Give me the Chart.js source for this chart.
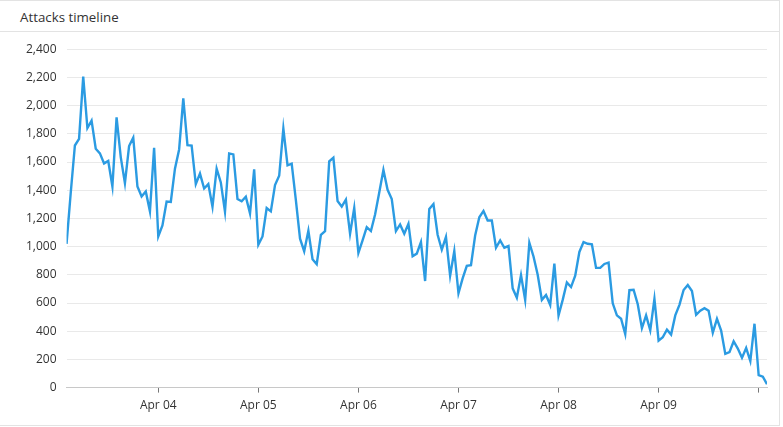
<!DOCTYPE html>
<html>
<head>
<meta charset="utf-8">
<script src="https://cdn.jsdelivr.net/npm/chart.js@4.4.0/dist/chart.umd.min.js"></script>
<style>
  html, body { margin: 0; padding: 0; background: #fff; }
  body { width: 783px; height: 427px; overflow: hidden; font-family: "Open Sans", sans-serif; }
  .panel { position: absolute; left: 0; top: 0; width: 779px; height: 424px;
           border: 1px solid #e3e3e3; border-left: none; }
  .panel-head { height: 30px; line-height: 32px; padding-left: 20px; font-size: 13.3px;
                color: #333; border-bottom: 1px solid #e3e3e3; }
  .panel-body { position: relative; width: 779px; height: 393px; }
</style>
</head>
<body>
<div class="panel">
  <div class="panel-head">Attacks timeline</div>
  <div class="panel-body"><canvas id="chart" width="779" height="393"></canvas></div>
</div>
<script>
// hourly counts, first sample at Apr 03 02:00 (hour 2 counted from Apr 03 00:00)
const startHour = 2;
const attacks = [
  1020, 1380, 1717, 1764, 2205, 1841, 1893, 1694, 1661, 1590, 1607, 1426, 1917, 1635, 1450, 1713,
  1773, 1426, 1356, 1391, 1250, 1701, 1072, 1150, 1319, 1317, 1553, 1689, 2051, 1720, 1717, 1443,
  1518, 1412, 1443, 1283, 1553, 1455, 1248, 1661, 1654, 1337, 1321, 1354, 1236, 1548, 1013, 1072,
  1274, 1250, 1436, 1502, 1837, 1576, 1588, 1330, 1056, 967, 1112, 910, 875, 1084, 1110, 1604,
  1630, 1323, 1283, 1333, 1091, 1274, 955, 1044, 1138, 1110, 1227, 1384, 1544, 1403, 1337, 1110,
  1157, 1091, 1161, 932, 950, 1032, 756, 1267, 1302, 1084, 978, 1068, 793, 969, 669, 774,
  863, 868, 1079, 1208, 1253, 1185, 1185, 992, 1044, 992, 1004, 704, 638, 798, 622, 1027,
  930, 800, 622, 657, 587, 880, 512, 622, 746, 713, 793, 962, 1032, 1020, 1016, 849,
  849, 877, 887, 598, 512, 488, 380, 692, 694, 591, 422, 512, 406, 629, 333, 357,
  411, 376, 512, 587, 692, 728, 685, 516, 545, 563, 545, 390, 488, 404, 239, 251,
  329, 277, 211, 281, 188, 453, 89, 77, 24
];
const dayTicks = [24, 48, 72, 96, 120, 144, 168];
const tickLabels = ['Apr 04', 'Apr 05', 'Apr 06', 'Apr 07', 'Apr 08', 'Apr 09', ''];

const points = attacks.map((v, i) => ({ x: startHour + i, y: v }));
const tickFont = { family: 'Open Sans', size: 12 };

new Chart(document.getElementById('chart'), {
  type: 'line',
  data: {
    datasets: [{
      data: points,
      borderColor: '#2b9be2',
      borderWidth: 2.4,
      pointRadius: 0,
      tension: 0,
      fill: false
    }]
  },
  options: {
    responsive: false,
    animation: false,
    layout: { padding: { left: 16, right: 12, top: 4, bottom: 6 } },
    plugins: { legend: { display: false }, tooltip: { enabled: false } },
    scales: {
      x: {
        type: 'linear',
        min: points[0].x,
        max: points[points.length - 1].x,
        afterBuildTicks: function (scale) {
          scale.ticks = dayTicks.map(v => ({ value: v }));
        },
        ticks: {
          autoSkip: false,
          maxRotation: 0,
          padding: 6,
          color: '#333',
          font: tickFont,
          callback: function (value, index) { return tickLabels[index]; }
        },
        grid: { drawOnChartArea: false, drawTicks: true, tickLength: 5, tickColor: '#777' },
        border: { color: '#c8c8c8' }
      },
      y: {
        min: 0,
        max: 2400,
        ticks: { stepSize: 200, padding: 10, color: '#333', font: tickFont },
        grid: { color: '#e9e9e9', drawTicks: false },
        border: { display: false }
      }
    }
  }
});
</script>
</body>
</html>
